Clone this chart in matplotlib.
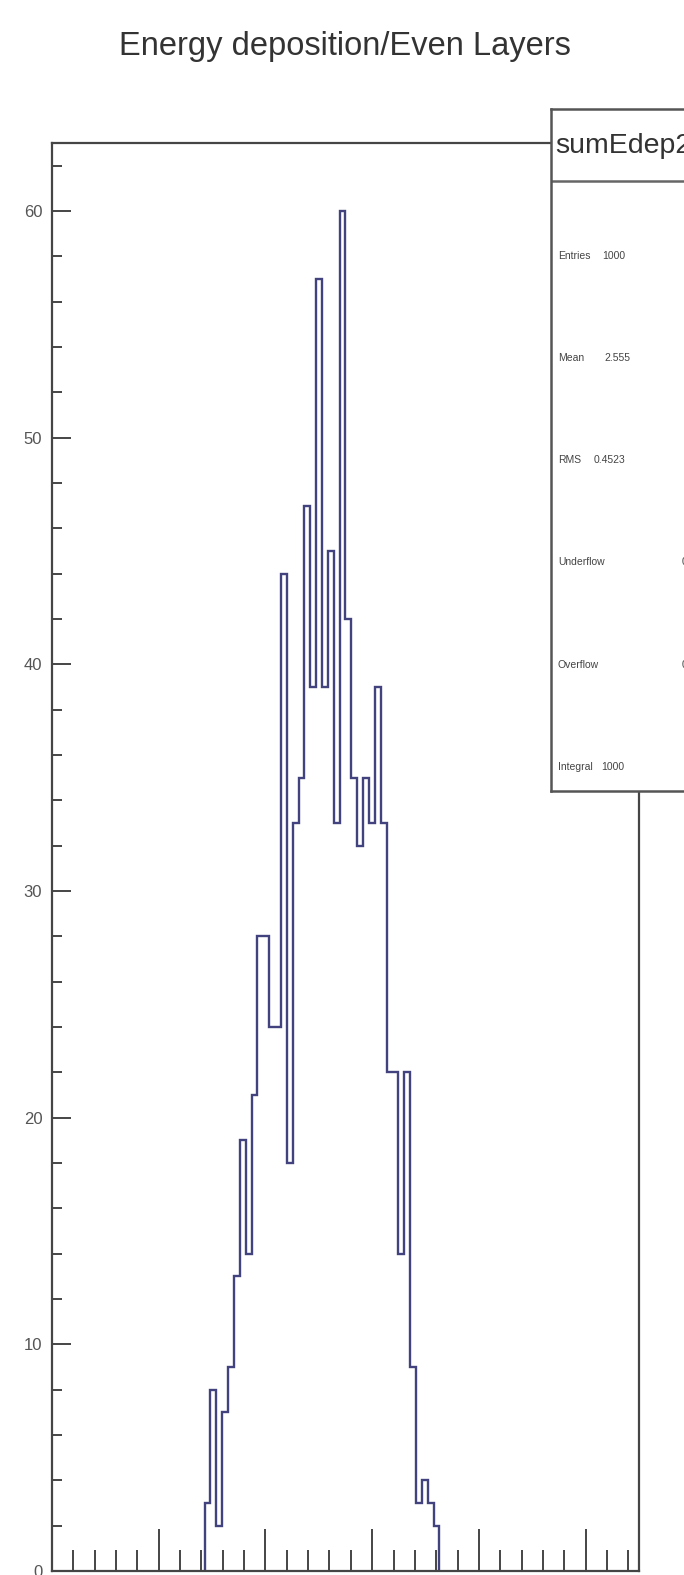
import matplotlib.pyplot as plt
import numpy as np

plt.rcParams['font.family'] = ['Liberation Sans', 'DejaVu Sans']

# histogram definition (100 bins over 0..5.5), only filled bins listed
n_bins = 100
x_min, x_max = 0.0, 5.5
first_bin = 26
counts = [3, 8, 2, 7, 9, 13, 19, 14, 21, 28, 28, 24, 24, 44, 18, 33, 35, 47, 39, 57,
          39, 45, 33, 60, 42, 35, 32, 35, 33, 39, 33, 22, 22, 14, 22, 9, 3, 4, 3, 2]

title = 'Energy deposition/Even Layers'
hist_name = 'sumEdep2'
stat_labels = ['Entries', 'Mean', 'RMS', 'Underflow', 'Overflow', 'Integral']
stat_values = ['1000', '2.555', '0.4523', '0', '0', '1000']

W, H = 684, 1575
fig = plt.figure(figsize=(W / 100, H / 100), dpi=100)
fig.patch.set_facecolor('white')

# main frame
l, r, t, b = 52, 639, 143, 1571
ax = fig.add_axes([l / W, 1 - b / H, (r - l) / W, (b - t) / H])

bin_w = (x_max - x_min) / n_bins
edges = x_min + bin_w * np.arange(first_bin, first_bin + len(counts) + 1)
ax.stairs(counts, edges, color='#42427e', lw=1.7)

ax.set_xlim(x_min, x_max)
ax.set_ylim(0, 63)
ax.set_xticks(np.arange(0, 6, 1))
ax.set_xticks(np.arange(0, 5.5, 0.2), minor=True)
ax.set_yticks(np.arange(0, 61, 10))
ax.set_yticks(np.arange(0, 63, 2), minor=True)

frame_col = '#454545'
for s in ax.spines.values():
    s.set_color(frame_col)
    s.set_linewidth(1.6)
ax.tick_params(axis='x', which='major', direction='in', length=30, width=1.4,
               color=frame_col, labelbottom=False)
ax.tick_params(axis='x', which='minor', direction='in', length=15, width=1.4,
               color=frame_col)
ax.tick_params(axis='y', which='major', direction='in', length=14, width=1.4,
               color=frame_col, labelsize=12, labelcolor='#555555', pad=7)
ax.tick_params(axis='y', which='minor', direction='in', length=7, width=1.4,
               color=frame_col)

fig.text(0.505, 1 - 47 / H, title, ha='center', va='center', fontsize=23.5,
         color='#333333')

# stats box (right part is cut off by the figure edge)
bl, bt, bb, br = 551, 109, 791, 760
sx = fig.add_axes([bl / W, 1 - bb / H, (br - bl) / W, (bb - bt) / H])
sx.set_xlim(bl, br)
sx.set_ylim(bb, bt)
sx.set_xticks([])
sx.set_yticks([])
sx.set_facecolor('white')
for s in sx.spines.values():
    s.set_color('#555555')
    s.set_linewidth(1.8)
sx.axhline(181, color='#666666', lw=1.8)
sx.text(555, 146, hist_name, fontsize=20.5, va='center', ha='left', color='#333333')

row_y = [256, 358, 460, 562, 665, 767]
val_x = [602, 604, 594, 682, 682, 601]
for lab, val, y, vx in zip(stat_labels, stat_values, row_y, val_x):
    sx.text(558, y, lab, fontsize=7.5, va='center', ha='left', color='#444444')
    sx.text(vx, y, val, fontsize=7.5, va='center', ha='left', color='#444444')

fig.savefig('out.png', dpi=100)
